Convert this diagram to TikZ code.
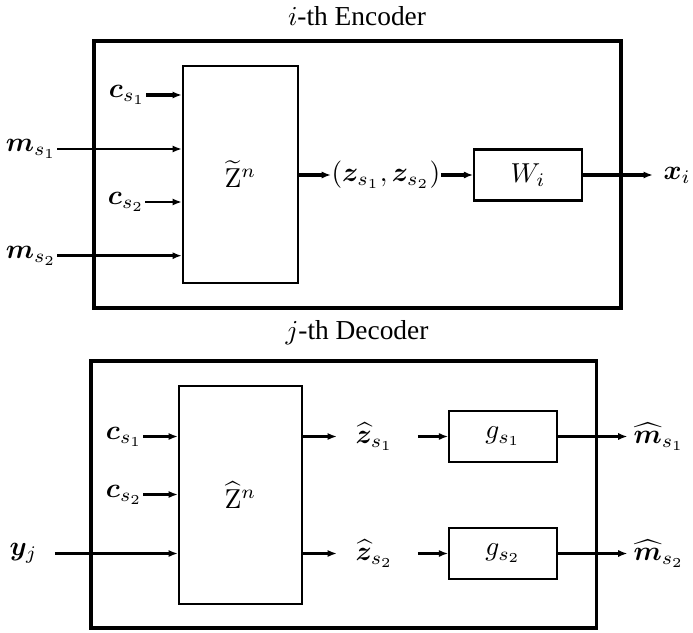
\documentclass[tikz,border=0pt]{standalone}
\usepackage{amsmath}
\usepackage{bm}
\usepackage[no-math]{fontspec}
\setmainfont{Liberation Serif}
\usetikzlibrary{arrows.meta}
\tikzset{
  outerbox/.style={draw, line width=1.2pt, inner sep=0pt},
  blockbox/.style={draw, line width=0.8pt, inner sep=0pt},
  lbl/.style={inner sep=0pt},
  thinarrow/.style={line width=0.75pt, -{Latex[length=3.4pt,width=2.6pt]}},
  thickarrow/.style={line width=1.3pt, -{Latex[length=3.4pt,width=2.6pt]}},
}
\begin{document}
\begin{tikzpicture}[x=0.365pt, y=-0.365pt]
\useasboundingbox (0,0) rectangle (693,632);

% ---------------- Encoder ----------------
\node[lbl] (enctitle) at (357,16) {$i$-th Encoder};
\node[outerbox, minimum width=192.4pt, minimum height=97.5pt] (enc) at (357.5,174.5) {};
\node[blockbox, minimum width=42pt, minimum height=79.2pt] (Z) at (240.5,174.5) {$\widetilde{\mathrm{Z}}^n$};
\node[blockbox, minimum width=39.2pt, minimum height=18.6pt] (W) at (528,175) {$W_i$};

\node[lbl, anchor=east] (ecs1) at (146,95) {$\bm{c}_{s_1}$};
\node[lbl, anchor=east] (ems1) at (57,149) {$\bm{m}_{s_1}$};
\node[lbl, anchor=east] (ecs2) at (145,202) {$\bm{c}_{s_2}$};
\node[lbl, anchor=east] (ems2) at (57,255.7) {$\bm{m}_{s_2}$};
\node[lbl, anchor=west] (zz) at (331,175) {$(\bm{z}_{s_1},\bm{z}_{s_2})$};
\node[lbl, anchor=west] (xi) at (663,175) {$\bm{x}_i$};

\draw[thickarrow] (ecs1.east) -- (ecs1.east -| Z.west);
\draw[thinarrow]  (ems1.east) -- (ems1.east -| Z.west);
\draw[thinarrow]  (ecs2.east) -- (ecs2.east -| Z.west);
\draw[thickarrow] (ems2.east) -- (ems2.east -| Z.west);
\draw[thickarrow] (Z.east |- zz.west) -- (zz.west);
\draw[thickarrow] (zz.east) -- (zz.east -| W.west);
\draw[thickarrow, shorten >=3.7pt] (W.east) -- (xi.west);

% ---------------- Decoder ----------------
\node[lbl] (dectitle) at (357,333) {$j$-th Decoder};
\node[outerbox, minimum width=184.5pt, minimum height=97.5pt] (dec) at (343.75,494.5) {};
\node[blockbox, minimum width=44.9pt, minimum height=79.6pt] (Zh) at (240.5,495) {$\widehat{\mathrm{Z}}^n$};
\node[blockbox, minimum width=39.2pt, minimum height=18.7pt] (g1) at (503,436.5) {$g_{s_1}$};
\node[blockbox, minimum width=39.2pt, minimum height=18.7pt] (g2) at (503,553.5) {$g_{s_2}$};

\node[lbl, anchor=east] (dcs1) at (143,436.5) {$\bm{c}_{s_1}$};
\node[lbl, anchor=east] (dcs2) at (143,494.5) {$\bm{c}_{s_2}$};
\node[lbl, anchor=east] (yj) at (38,553.5) {$\bm{y}_j$};
\node[lbl, anchor=west] (zh1) at (355,436.5) {$\widehat{\bm{z}}_{s_1}$};
\node[lbl, anchor=west] (zh2) at (355,553.5) {$\widehat{\bm{z}}_{s_2}$};
\node[lbl, anchor=west] (mh1) at (633,436.5) {$\widehat{\bm{m}}_{s_1}$};
\node[lbl, anchor=west] (mh2) at (633,553.5) {$\widehat{\bm{m}}_{s_2}$};

\draw[thickarrow] (dcs1.east) -- (dcs1.east -| Zh.west);
\draw[thinarrow]  (dcs2.east) -- (dcs2.east -| Zh.west);
\draw[thinarrow, shorten <=6.2pt] (yj.east) -- (yj.east -| Zh.west);
\draw[thickarrow, shorten >=6.6pt] (Zh.east |- zh1.west) -- (zh1.west);
\draw[thinarrow, shorten >=6.6pt] (Zh.east |- zh2.west) -- (zh2.west);
\draw[thickarrow, shorten <=8.8pt] (zh1.east |- g1.west) -- (g1.west);
\draw[thinarrow, shorten <=8.8pt] (zh2.east |- g2.west) -- (g2.west);
\draw[thickarrow, shorten >=2pt] (g1.east) -- (mh1.west);
\draw[thinarrow, shorten >=2pt] (g2.east) -- (mh2.west);
\end{tikzpicture}
\end{document}
